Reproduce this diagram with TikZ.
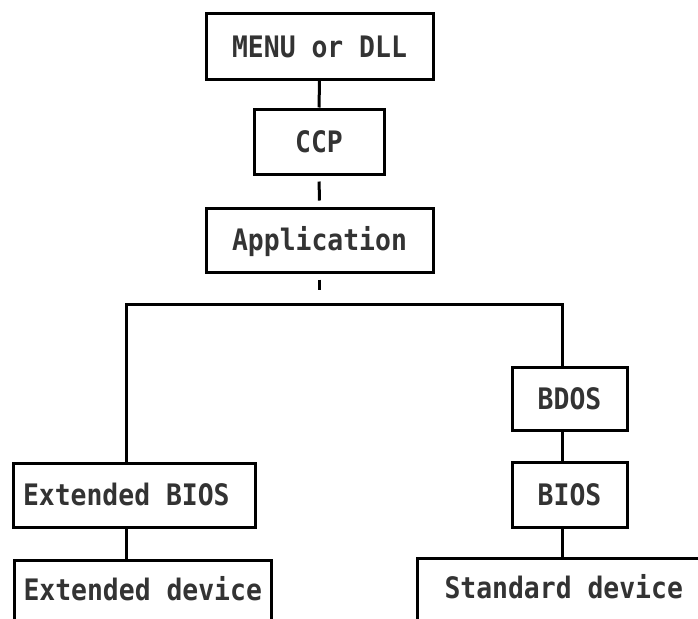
\documentclass[tikz,border=0pt]{standalone}
\usepackage{graphicx}
\usepackage{fontspec}
\setmonofont{DejaVu Sans Mono}
% slightly tall printer lettering
\newcommand\lbl[1]{\scalebox{1}[1.12]{#1}}
\begin{document}
\begin{tikzpicture}[x=1pt,y=-1pt,
  box/.style={draw=black, line width=3pt, inner sep=0pt,
    font=\ttfamily\bfseries\fontsize{26.4}{30}\selectfont, text=black!80,
    text height=21.6pt, text depth=0pt},
  openbox/.style={box, anchor=north west, inner ysep=0pt,
    text height=40pt, text depth=60pt},
  link/.style={line width=3pt}]
\useasboundingbox (0,0) rectangle (698,618);
\clip (0,0) rectangle (698,618);
\fill[white] (0,0) rectangle (698,618);

% upper chain
\node[box, minimum width=227pt, minimum height=65pt] (menu) at (319.5,46.5) {\lbl{MENU or DLL}};
\node[box, minimum width=130pt, minimum height=65pt] (ccp) at (319,141.5) {\lbl{CCP}};
\node[box, minimum width=227pt, minimum height=64pt] (app) at (319.5,240) {\lbl{Application}};

% right branch
\node[box, minimum width=115pt, minimum height=63pt] (bdos) at (569.5,398.5) {\lbl{BDOS}};
\node[box, minimum width=115pt, minimum height=65pt] (bios) at (569.5,494.5) {\lbl{BIOS}};
\node[openbox, inner xsep=27pt] (sdev) at (416,557) {\lbl{\makebox[250pt][l]{Standard device}}};

% left branch
\node[box, inner xsep=10pt, minimum height=64pt] (ebios) at (134,495) {\lbl{\makebox[222pt][l]{Extended BIOS}}};
\node[openbox, inner xsep=9pt] (edev) at (13,559) {\lbl{\makebox[239pt][l]{Extended device}}};

% connectors
\coordinate (split) at (319.5,304);
\coordinate (lb) at (126,304);
\coordinate (rb) at (562,304);
\draw[link] (menu) -- (ccp);
\draw[link, shorten <=6pt, shorten >=6pt] (ccp) -- (app);
\draw[link, shorten <=6pt, shorten >=14pt] (app) -- (split);
\draw[link] (lb |- ebios.north) -- (lb) -- (rb) -- (rb |- bdos.north);
\draw[link] (rb |- bdos.south) -- (rb |- bios.north);
\draw[link] (rb |- bios.south) -- (rb |- sdev.north);
\draw[link] (lb |- ebios.south) -- (lb |- edev.north);
\end{tikzpicture}
\end{document}
